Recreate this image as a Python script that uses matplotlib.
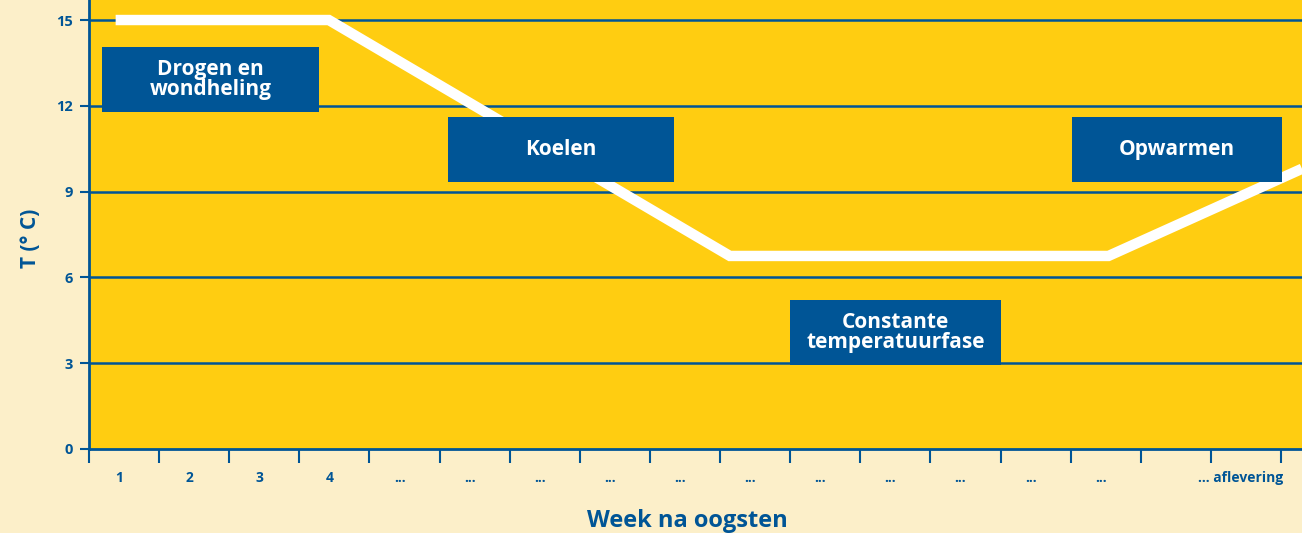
import matplotlib.pyplot as plt
from matplotlib.patches import Rectangle

# temperature course (week units, one unit per column)
week_x = [0.38, 3.42, 9.14, 14.54, 17.3]
temp_y = [15.0, 15.0, 6.75, 6.75, 9.8]

tick_labels = ['1', '2', '3', '4'] + ['...'] * 11 + ['', '... aflevering']
y_ticks = [0, 3, 6, 9, 12, 15]

# phase labels: text, x0, x1, y0, y1
phases = [
    ('Drogen en\nwondheling', 0.19, 3.28, 11.78, 14.06),
    ('Koelen', 5.12, 8.35, 9.34, 11.61),
    ('Opwarmen', 14.02, 17.02, 9.34, 11.61),
    ('Constante\ntemperatuurfase', 10.0, 13.0, 2.94, 5.2),
]

BG = '#fcefc9'
YELLOW = '#ffcd11'
BLUE = '#005596'

plt.rcParams['font.family'] = ['Open Sans', 'DejaVu Sans']
plt.rcParams['font.weight'] = 'bold'

fig = plt.figure(figsize=(13.02, 5.33), dpi=100, facecolor=BG)
ax = fig.add_axes([89 / 1302, 1 - 449 / 533, 1 - 89 / 1302, 449 / 533])
ax.set_facecolor(YELLOW)

ax.set_xlim(0, 17.3)
ax.set_ylim(0, 15.7)

for y in y_ticks[1:]:
    ax.axhline(y, color=BLUE, lw=1.8, zorder=1)

ax.plot(week_x, temp_y, color='white', lw=7.5, solid_joinstyle='miter',
        solid_capstyle='butt', zorder=2)

for text, x0, x1, y0, y1 in phases:
    ax.add_patch(Rectangle((x0, y0), x1 - x0, y1 - y0, color=BLUE, zorder=3, lw=0))
    ax.text((x0 + x1) / 2, (y0 + y1) / 2, text, color='white', fontsize=15,
            fontweight='bold', ha='center', va='center', linespacing=0.95, zorder=4)

for side in ['top', 'right']:
    ax.spines[side].set_visible(False)
for side in ['left', 'bottom']:
    ax.spines[side].set_color(BLUE)
    ax.spines[side].set_linewidth(2)

ax.set_yticks(y_ticks)
ax.set_yticklabels([str(v) for v in y_ticks])
ax.tick_params(axis='y', colors=BLUE, length=6.5, width=1.5, labelsize=10.5, pad=5)

ax.set_xticks(range(18))
ax.set_xticklabels([])
ax.set_xticks([i + 0.43 for i in range(17)], minor=True)
ax.set_xticklabels(tick_labels, minor=True)
ax.tick_params(axis='x', which='major', colors=BLUE, length=10, width=1.5, direction='out')
ax.tick_params(axis='x', which='minor', length=0, labelsize=10, labelcolor=BLUE, pad=16)
ax.get_xticklabels(minor=True)[-1].set_horizontalalignment('center')

for lab in ax.get_yticklabels() + ax.get_xticklabels(minor=True):
    lab.set_fontweight('bold')

ax.set_xlabel('Week na oogsten', color=BLUE, fontsize=17, fontweight='bold')
ax.xaxis.set_label_coords(0.493, -72 / 449)
ax.xaxis.label.set_verticalalignment('center')
ax.set_ylabel('T (° C)', color=BLUE, fontsize=15, fontweight='bold')
ax.yaxis.set_label_coords(-59 / 1213, 0.47)
ax.yaxis.label.set_verticalalignment('center')

fig.savefig('out.png', dpi=100, facecolor=BG)
